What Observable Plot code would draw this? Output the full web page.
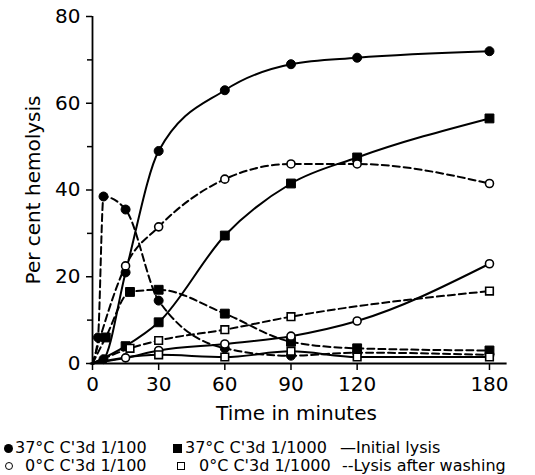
<!DOCTYPE html>
<html><head><meta charset="utf-8">
<script src="https://cdn.jsdelivr.net/npm/d3@7"></script>
<script src="https://cdn.jsdelivr.net/npm/@observablehq/plot@0.6"></script>
<style>
body{margin:0;background:#fff;font-family:"DejaVu Sans",sans-serif;}
#chart svg{overflow:visible;}
#legend{position:relative;width:535px;height:50px;font-size:16px;color:#000;}
#legend .t{position:absolute;white-space:nowrap;line-height:18px;}
#legend .s{position:absolute;box-sizing:border-box;}
</style></head><body><div id="chart"></div><div id="legend"></div>
<script>
// ---- data (time in minutes, per cent hemolysis) ----
// 37°C C'3d 1/100, initial lysis (filled circle, solid)
const timeA = [0, 5, 15, 30, 60, 90, 120, 180];
const valA  = [0, 1, 21, 49, 63, 69, 70.5, 72];
// 37°C C'3d 1/100, lysis after washing (filled circle, dashed)
const timeB = [0, 2.5, 5, 15, 30, 60, 90, 120, 180];
const valB  = [0, 6, 38.5, 35.5, 14.5, 3.5, 1.8, 2.5, 2];
// 0°C C'3d 1/100, lysis after washing (open circle, dashed)
const timeC = [0, 15, 30, 60, 90, 120, 180];
const valC  = [0, 22.5, 31.5, 42.5, 46, 46, 41.5];
// 37°C C'3d 1/1000, lysis after washing (filled square, dashed)
const timeD = [0, 6, 17, 30, 60, 90, 120, 180];
const valD  = [0, 6, 16.5, 17, 11.5, 5, 3.5, 3];
// 37°C C'3d 1/1000, initial lysis (filled square, solid)
const timeE = [0, 15, 30, 60, 90, 120, 180];
const valE  = [0, 4, 9.5, 29.5, 41.5, 47.5, 56.5];
// 0°C C'3d 1/100, initial lysis (open circle, solid)
const timeF = [0, 15, 30, 60, 90, 120, 180];
const valF  = [0, 1.3, 3, 4.5, 6.3, 9.8, 23];
// 0°C C'3d 1/1000, lysis after washing (open square, dashed)
const timeG = [0, 17, 30, 60, 90, 180];
const valG  = [0, 3.5, 5.3, 7.8, 10.8, 16.7];
// 0°C C'3d 1/1000, initial lysis (open square, solid)
const timeH = [0, 30, 60, 90, 120, 180];
const valH  = [0, 2, 1.5, 2.8, 1.5, 1.5];

const xTicks = [0, 30, 60, 90, 120, 180];
const yTicks = [0, 20, 40, 60, 80];
const yMinor = [10, 30, 50, 70];
const xLabel = "Time in minutes";
const yLabel = "Per cent hemolysis";

const seriesDefs = [
  {key: "A", t: timeA, v: valA, line: "solid",  shape: "circle", filled: true},
  {key: "B", t: timeB, v: valB, line: "dashed", shape: "circle", filled: true},
  {key: "C", t: timeC, v: valC, line: "dashed", shape: "circle", filled: false},
  {key: "D", t: timeD, v: valD, line: "dashed", shape: "square", filled: true},
  {key: "E", t: timeE, v: valE, line: "solid",  shape: "square", filled: true},
  {key: "F", t: timeF, v: valF, line: "solid",  shape: "circle", filled: false},
  {key: "G", t: timeG, v: valG, line: "dashed", shape: "square", filled: false},
  {key: "H", t: timeH, v: valH, line: "solid",  shape: "square", filled: false}
];
const rows = seriesDefs.flatMap(s => s.t.map((t, i) => ({series: s.key, t, v: s.v[i], line: s.line, shape: s.shape, filled: s.filled})));
const pts = rows.filter(d => d.t > 0);

const chart = Plot.plot({
  width: 535,
  height: 425,
  marginLeft: 92,
  marginRight: 35,
  marginTop: 16,
  marginBottom: 62,
  style: {fontFamily: "DejaVu Sans, sans-serif", background: "#fff", color: "#000"},
  x: {domain: [0, 185]},
  y: {domain: [0, 80]},
  marks: [
    Plot.line(rows.filter(d => d.line === "solid"), {x: "t", y: "v", z: "series", stroke: "#000", strokeWidth: 2, curve: "monotone-x"}),
    Plot.line(rows.filter(d => d.line === "dashed"), {x: "t", y: "v", z: "series", stroke: "#000", strokeWidth: 2, strokeDasharray: "7,4", curve: "monotone-x"}),
    Plot.dot(pts.filter(d => d.shape === "circle" && d.filled), {x: "t", y: "v", symbol: "circle", r: 4.5, fill: "#000", stroke: "#000", strokeWidth: 1}),
    Plot.dot(pts.filter(d => d.shape === "square" && d.filled), {x: "t", y: "v", symbol: "square", r: 5, fill: "#000", stroke: "#000", strokeWidth: 1}),
    Plot.dot(pts.filter(d => d.shape === "circle" && !d.filled), {x: "t", y: "v", symbol: "circle", r: 4, fill: "#fff", stroke: "#000", strokeWidth: 1.6}),
    Plot.dot(pts.filter(d => d.shape === "square" && !d.filled), {x: "t", y: "v", symbol: "square", r: 4.3, fill: "#fff", stroke: "#000", strokeWidth: 1.6}),
    Plot.ruleX([0], {stroke: "#000", strokeWidth: 1.8}),
    Plot.ruleY([0], {stroke: "#000", strokeWidth: 1.8, x1: -1, x2: 188}),
    Plot.axisY({ticks: yTicks, tickSize: 6, tickPadding: 6, fontSize: 20, label: null, strokeWidth: 1.5}),
    Plot.axisY({ticks: yMinor, tickSize: 5, tickFormat: () => "", label: null, strokeWidth: 1.5}),
    Plot.axisX({ticks: xTicks, tickSize: 7, tickPadding: 6, fontSize: 20, label: null, strokeWidth: 1.5}),
    Plot.text([xLabel], {frameAnchor: "bottom", dy: 50, fontSize: 20, textAnchor: "middle", lineAnchor: "middle", fill: "#000"}),
    Plot.text([yLabel], {frameAnchor: "left", dx: -59, rotate: -90, fontSize: 20, textAnchor: "middle", lineAnchor: "middle", fill: "#000"})
  ]
});
document.getElementById("chart").appendChild(chart);

// ---- legend ----
const legendRows = [
  [{sym: "circle", filled: true, x: 4, text: "37°C C'3d 1/100", tx: 15},
   {sym: "square", filled: true, x: 173, text: "37°C C'3d 1/1000", tx: 185},
   {text: "—Initial lysis", tx: 340}],
  [{sym: "circle", filled: false, x: 5, text: "0°C C'3d 1/100", tx: 25},
   {sym: "square", filled: false, x: 177, text: "0°C C'3d 1/1000", tx: 199},
   {text: "--Lysis after washing", tx: 342}]
];
const legend = document.getElementById("legend");
const rowY = [14, 32];
legendRows.forEach((row, ri) => {
  row.forEach(it => {
    if (it.sym) {
      const s = document.createElement("span");
      s.className = "s";
      const size = it.filled ? 9 : 8;
      s.style.left = it.x + "px";
      s.style.top = (rowY[ri] + 9 - size / 2) + "px";
      s.style.width = size + "px";
      s.style.height = size + "px";
      if (it.sym === "circle") s.style.borderRadius = "50%";
      if (it.filled) s.style.background = "#000";
      else s.style.border = "1.5px solid #000";
      legend.appendChild(s);
    }
    const t = document.createElement("span");
    t.className = "t";
    t.style.left = it.tx + "px";
    t.style.top = rowY[ri] + "px";
    t.textContent = it.text;
    legend.appendChild(t);
  });
});
</script>
</body></html>
